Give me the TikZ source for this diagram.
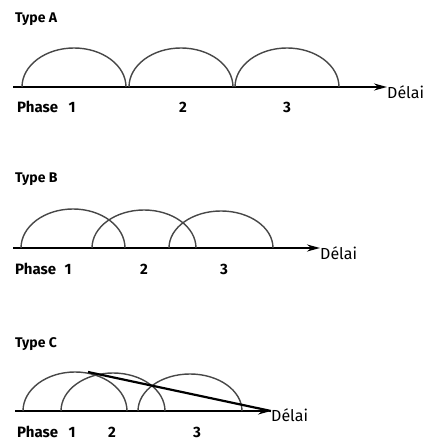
\documentclass[tikz,border=0pt]{standalone}
\usepackage{fontspec}
\setmainfont{Fira Sans}
\usepackage{tikz}
\usetikzlibrary{arrows.meta,positioning}

\begin{document}
\begin{tikzpicture}[x=1pt, y=1pt, >={Stealth[length=13pt,width=7pt]},
  ttl/.style={font=\fontsize{14}{16}\selectfont\bfseries, inner sep=0pt, anchor=base west},
  lbl/.style={font=\fontsize{15}{17}\selectfont\bfseries, inner sep=0pt, anchor=base},
  dl/.style={font=\fontsize{16}{18}\selectfont, inner sep=0pt, anchor=base west},
  axis/.style={line width=1.8pt},
  ph/.style={line width=1.4pt, black!72},
  trend/.style={line width=2.2pt}]
\useasboundingbox (0,0) rectangle (426,441);

% Type A
\node[ttl] (tA) at (15,418) {Type A};
\coordinate (sA) at (13,354);
\node[dl] (dA) at (387,342) {Délai};
\draw[axis,->] (sA) -- (sA -| dA.west);
\draw[ph] (22,354) arc[start angle=180, end angle=0, x radius=52pt, y radius=39pt];
\draw[ph] (129,354) arc[start angle=180, end angle=0, x radius=52pt, y radius=39pt];
\draw[ph] (235,354) arc[start angle=180, end angle=0, x radius=52pt, y radius=39pt];
\node[lbl, anchor=base west] (pA) at (17,328) {Phase};
\node[lbl] (pA1) at (72,328) {1};
\node[lbl] (pA2) at (183,328) {2};
\node[lbl] (pA3) at (287,328) {3};

% Type B
\node[ttl] (tB) at (15,258) {Type B};
\coordinate (sB) at (13,193);
\node[dl] (dB) at (320,181) {Délai};
\draw[axis,->] (sB) -- (sB -| dB.west);
\draw[ph] (21,193) arc[start angle=180, end angle=0, x radius=52pt, y radius=39pt];
\draw[ph] (92,193) arc[start angle=180, end angle=0, x radius=52pt, y radius=38pt];
\draw[ph] (169,193) arc[start angle=180, end angle=0, x radius=52pt, y radius=37pt];
\node[lbl, anchor=base west] (pB) at (15,166) {Phase};
\node[lbl] (pB1) at (68,166) {1};
\node[lbl] (pB2) at (144,166) {2};
\node[lbl] (pB3) at (224,166) {3};

% Type C
\node[ttl] (tC) at (15,93) {Type C};
\coordinate (sC) at (15,30);
\node[dl] (dC) at (271,19) {Délai};
\draw[axis,->] (sC) -- (sC -| dC.west);
\draw[ph] (23,30) arc[start angle=180, end angle=0, x radius=52pt, y radius=39pt];
\draw[ph] (61,30) arc[start angle=180, end angle=0, x radius=52pt, y radius=38pt];
\draw[ph] (138,30) arc[start angle=180, end angle=0, x radius=52pt, y radius=37pt];
\coordinate (kC) at (88,69);
\draw[trend] (kC) -- (sC -| dC.west);
\node[lbl, anchor=base west] (pC) at (17,3) {Phase};
\node[lbl] (pC1) at (72,3) {1};
\node[lbl] (pC2) at (112,3) {2};
\node[lbl] (pC3) at (197,3) {3};
\end{tikzpicture}
\end{document}
